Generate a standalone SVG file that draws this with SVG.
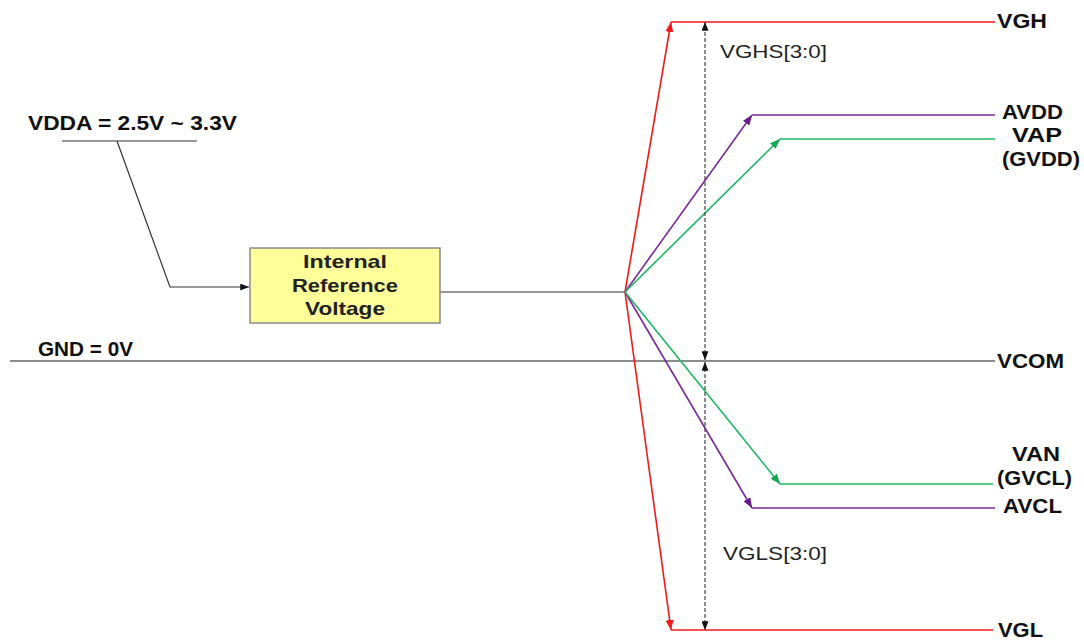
<svg xmlns="http://www.w3.org/2000/svg" width="1084" height="642" viewBox="0 0 1084 642">
<defs>
<style>
.lbl{font-family:"Liberation Sans",Arial,sans-serif;font-weight:bold;font-size:21px;fill:#111}
.box{font-family:"Liberation Sans",Arial,sans-serif;font-weight:bold;font-size:19px;fill:#222}
.reg{font-family:"Liberation Sans",Arial,sans-serif;font-size:19px;fill:#222}
.k{stroke:#333;stroke-width:1.2;fill:none}
.r{stroke:#f01818;stroke-width:1.6;fill:none}
.p{stroke:#7a2a98;stroke-width:1.6;fill:none}
.g{stroke:#1cb862;stroke-width:1.6;fill:none}
.d{stroke:#444;stroke-width:1.2;stroke-dasharray:4 2;fill:none}
</style>
<marker id="ak" viewBox="0 0 10 8" refX="10" refY="4" markerWidth="9" markerHeight="7" markerUnits="userSpaceOnUse" orient="auto-start-reverse"><path d="M0,0 L10,4 L0,8 z" fill="#111"/></marker>
<marker id="ar" viewBox="0 0 10 8" refX="10" refY="4" markerWidth="10" markerHeight="8" markerUnits="userSpaceOnUse" orient="auto"><path d="M0,0 L10,4 L0,8 z" fill="#f01818"/></marker>
<marker id="ap" viewBox="0 0 10 8" refX="10" refY="4" markerWidth="10" markerHeight="8" markerUnits="userSpaceOnUse" orient="auto"><path d="M0,0 L10,4 L0,8 z" fill="#6a1a88"/></marker>
<marker id="ag" viewBox="0 0 10 8" refX="10" refY="4" markerWidth="10" markerHeight="8" markerUnits="userSpaceOnUse" orient="auto"><path d="M0,0 L10,4 L0,8 z" fill="#10a850"/></marker>
</defs>
<rect width="1084" height="642" fill="#fff"/>

<g id="connectors">
<line class="k" x1="62" y1="141" x2="197" y2="141"/>
<polyline class="k" points="117,141 170,287 249,287" marker-end="url(#ak)"/>
<line class="k" x1="440" y1="292" x2="625" y2="292"/>
<line class="k" x1="10" y1="361" x2="995" y2="361" style="stroke:#666;stroke-width:1.5"/>
<line class="r" x1="625" y1="292" x2="671" y2="22" marker-end="url(#ar)"/>
<line class="r" x1="671" y1="22" x2="995" y2="22"/>
<line class="r" x1="625" y1="292" x2="671" y2="630" marker-end="url(#ar)"/>
<line class="r" x1="671" y1="630" x2="993" y2="630"/>
<line class="p" x1="625" y1="292" x2="752" y2="115" marker-end="url(#ap)"/>
<line class="p" x1="752" y1="115" x2="995" y2="115"/>
<line class="p" x1="625" y1="292" x2="752" y2="508" marker-end="url(#ap)"/>
<line class="p" x1="752" y1="508" x2="995" y2="508"/>
<line class="g" x1="625" y1="292" x2="780" y2="139" marker-end="url(#ag)"/>
<line class="g" x1="780" y1="139" x2="995" y2="139"/>
<line class="g" x1="625" y1="292" x2="780" y2="484" marker-end="url(#ag)"/>
<line class="g" x1="780" y1="484" x2="993" y2="484"/>
<line class="d" x1="705" y1="360" x2="705" y2="22" marker-start="url(#ak)" marker-end="url(#ak)"/>
<line class="d" x1="705" y1="362" x2="705" y2="630" marker-start="url(#ak)" marker-end="url(#ak)"/>
</g>

<g id="node-vdda">
<text class="lbl" x="28" y="130" textLength="209" lengthAdjust="spacingAndGlyphs">VDDA = 2.5V ~ 3.3V</text>
</g>
<g id="node-gnd">
<text class="lbl" x="38" y="356" textLength="95" lengthAdjust="spacingAndGlyphs">GND = 0V</text>
</g>
<g id="node-irv">
<rect x="250" y="248" width="190" height="75" fill="#ffff99" stroke="#8a8a8a" stroke-width="1.5"/>
<text class="box" x="345" y="268" text-anchor="middle" textLength="84" lengthAdjust="spacingAndGlyphs">Internal</text>
<text class="box" x="345" y="292" text-anchor="middle" textLength="106" lengthAdjust="spacingAndGlyphs">Reference</text>
<text class="box" x="345" y="315" text-anchor="middle" textLength="80" lengthAdjust="spacingAndGlyphs">Voltage</text>
</g>
<g id="node-vghs">
<text class="reg" x="720" y="58" textLength="107" lengthAdjust="spacingAndGlyphs">VGHS[3:0]</text>
</g>
<g id="node-vgls">
<text class="reg" x="723" y="560" textLength="104" lengthAdjust="spacingAndGlyphs">VGLS[3:0]</text>
</g>
<g id="node-vgh"><text class="lbl" x="997" y="28" textLength="50" lengthAdjust="spacingAndGlyphs">VGH</text></g>
<g id="node-avdd"><text class="lbl" x="1002" y="119" textLength="61" lengthAdjust="spacingAndGlyphs">AVDD</text></g>
<g id="node-vap">
<text class="lbl" x="1012" y="142" textLength="50" lengthAdjust="spacingAndGlyphs">VAP</text>
<text class="lbl" x="1002" y="166" textLength="78" lengthAdjust="spacingAndGlyphs">(GVDD)</text>
</g>
<g id="node-vcom"><text class="lbl" x="997" y="368" textLength="67" lengthAdjust="spacingAndGlyphs">VCOM</text></g>
<g id="node-van">
<text class="lbl" x="1012" y="461" textLength="48" lengthAdjust="spacingAndGlyphs">VAN</text>
<text class="lbl" x="997" y="485" textLength="75" lengthAdjust="spacingAndGlyphs">(GVCL)</text>
</g>
<g id="node-avcl"><text class="lbl" x="1003" y="513" textLength="59" lengthAdjust="spacingAndGlyphs">AVCL</text></g>
<g id="node-vgl"><text class="lbl" x="998" y="637" textLength="45" lengthAdjust="spacingAndGlyphs">VGL</text></g>
</svg>
